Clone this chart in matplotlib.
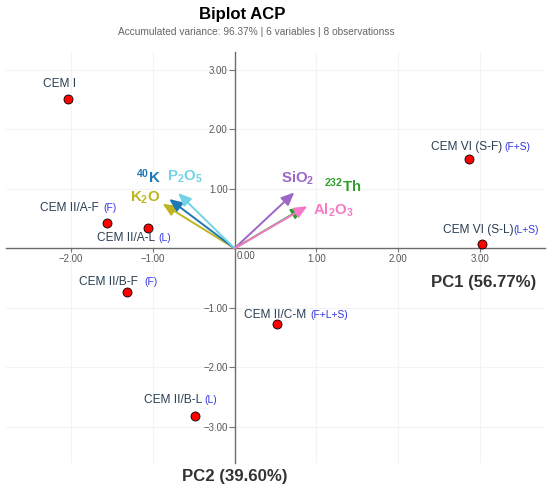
# biplot of the PCA on cement compositions
import matplotlib
matplotlib.use("Agg")
import matplotlib.pyplot as plt
from matplotlib.ticker import FuncFormatter

plt.rcParams['font.family'] = ['Liberation Sans', 'DejaVu Sans']
plt.rcParams['mathtext.fontset'] = 'custom'
plt.rcParams['mathtext.rm'] = 'Liberation Sans:bold'
plt.rcParams['mathtext.bf'] = 'Liberation Sans:bold'
plt.rcParams['mathtext.it'] = 'Liberation Sans:bold:italic'

# observations (scores on PC1 / PC2)
obs_names = ["CEM I", "CEM II/A-F", "CEM II/A-L", "CEM II/B-F", "CEM II/B-L",
             "CEM II/C-M", "CEM VI (S-F)", "CEM VI (S-L)"]
obs_tags = ["", "(F)", "(L)", "(F)", "(L)", "(F+L+S)", "(F+S)", "(L+S)"]
pc1 = [-2.04, -1.56, -1.06, -1.31, -0.48, 0.52, 2.86, 3.03]
pc2 = [2.51, 0.43, 0.35, -0.74, -2.82, -1.28, 1.50, 0.08]

# variables (loadings)
var_labels = [r'$\mathrm{K_2O}$', r'$\mathrm{{}^{40}K}$', r'$\mathrm{P_2O_5}$',
              r'$\mathrm{SiO_2}$', r'$\mathrm{{}^{232}Th}$', r'$\mathrm{Al_2O_3}$']
load1 = [-0.88, -0.80, -0.69, 0.73, 0.85, 0.89]
load2 = [0.75, 0.83, 0.93, 0.94, 0.69, 0.71]
var_colors = ['#bdb51f', '#1f77b4', '#72d3e6', '#9b66c6', '#2ca02c', '#f77bc4']

ticks_x = [-2, -1, 1, 2, 3]
ticks_y = [-3, -2, -1, 1, 2, 3]

# label placement in pixels: (left edge dx, centre dy) from point, gap before tag
obs_off = [(-25, -15), (-67.4, -15), (-50.7, 10), (-48.7, -10.6), (-51, -15.7),
           (-33.3, -9.3), (-37.6, -12.6), (-39.4, -13.3)]
tag_gap = [0, 4.7, 3.3, 6.3, 2, 4, 2, 0]
# variable label (centre x, baseline y) from arrow tip, pixels
var_off = [(-17.7, -1.9), (-20.3, -16.3), (6.2, -12.2), (3.2, -9.6), (38.9, -15.2), (26.2, 8.4)]

px = 0.72  # pixels -> points at dpi 100

fig = plt.figure(figsize=(5.5, 4.92), dpi=100)
ax = fig.add_axes([0.0109, 0.0583, 0.98, 0.8366])
ax.set_xlim(-2.795, 3.795)
ax.set_ylim(-3.616, 3.308)

for s in ['top', 'right']:
    ax.spines[s].set_visible(False)
for s in ['left', 'bottom']:
    ax.spines[s].set_position(('data', 0))
    ax.spines[s].set_color('#6b6b6b')
    ax.spines[s].set_linewidth(1.0)

fmt = FuncFormatter(lambda v, p: f"{v:.2f}".replace("-", "\u2212"))
ax.set_xticks(ticks_x)
ax.set_yticks(ticks_y)
ax.xaxis.set_major_formatter(fmt)
ax.yaxis.set_major_formatter(fmt)
ax.tick_params(axis='x', direction='out', length=3, width=0.8, color='#777777',
               pad=1, labelsize=6.9, labelcolor='#555555')
ax.tick_params(axis='y', direction='out', length=4.5, width=0.8, color='#777777',
               pad=0.5, labelsize=6.9, labelcolor='#555555')
ax.grid(True, color='#f3f3f3', lw=0.8)
ax.set_axisbelow(True)
ax.annotate("0.00", xy=(0, 0), xytext=(2 * px, -7.3 * px), textcoords='offset points',
            ha='left', va='center', fontsize=6.9, color='#555555')

# loading arrows (Th first so that Al2O3 sits on top of it)
order = [4, 0, 1, 2, 3, 5]
for i in order:
    ax.annotate('', xy=(load1[i], load2[i]), xytext=(0, 0),
                arrowprops=dict(arrowstyle='-|>,head_length=0.55,head_width=0.24',
                                color=var_colors[i], lw=1.4, mutation_scale=14,
                                shrinkA=0, shrinkB=0), zorder=3)
for i in range(len(load1)):
    ax.annotate(var_labels[i], xy=(load1[i], load2[i]),
                xytext=(var_off[i][0] * px, -var_off[i][1] * px), textcoords='offset points',
                ha='center', va='baseline', fontsize=10.8, color=var_colors[i], zorder=4)

# observations
ax.scatter(pc1, pc2, s=42, color='#ff0000', edgecolor='black', linewidth=0.6, zorder=5)
for i in range(len(pc1)):
    t = ax.annotate(obs_names[i], xy=(pc1[i], pc2[i]),
                    xytext=(obs_off[i][0] * px, -obs_off[i][1] * px), textcoords='offset points',
                    ha='left', va='center', fontsize=8.6, color='#2a3f54', zorder=6)
    if obs_tags[i]:
        ax.annotate(obs_tags[i], xy=(1, 0.5), xycoords=t, xytext=(tag_gap[i] * px, 0),
                    textcoords='offset points', ha='left', va='center',
                    fontsize=7.4, color='#3535e6', zorder=6)

fig.text(0.9758, 0.4254, "PC1 (56.77%)", ha='right', va='center', fontsize=12.1,
         fontweight='bold', color='#333333')
fig.text(0.4273, 0.0311, "PC2 (39.60%)", ha='center', va='center', fontsize=12.1,
         fontweight='bold', color='#333333')
fig.text(0.44, 0.9715, "Biplot ACP", ha='center', va='center', fontsize=12.1,
         fontweight='bold', color='black')
fig.text(0.466, 0.9356, "Accumulated variance: 96.37% | 6 variables | 8 observationss",
         ha='center', va='center', fontsize=7.25, color='#666666')

fig.savefig("out.png", dpi=100)
